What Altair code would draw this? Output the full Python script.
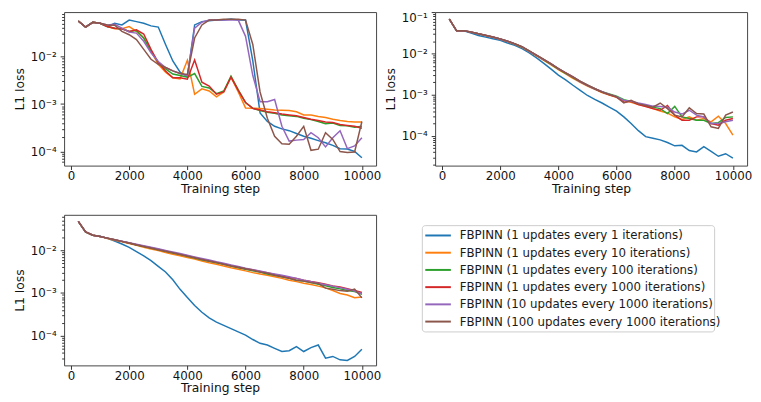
import altair as alt
import pandas as pd

steps = list(range(250, 10001, 250))
series_names = [
    "FBPINN (1 updates every 1 iterations)",
    "FBPINN (1 updates every 10 iterations)",
    "FBPINN (1 updates every 100 iterations)",
    "FBPINN (1 updates every 1000 iterations)",
    "FBPINN (10 updates every 1000 iterations)",
    "FBPINN (100 updates every 1000 iterations)",
]
colors = ["#1f77b4", "#ff7f0e", "#2ca02c", "#d62728", "#9467bd", "#8c564b"]
x_ticks = [0, 2000, 4000, 6000, 8000, 10000]
y_major = [1e-4, 1e-3, 1e-2, 1e-1]

# ---- panel 1 (top left) ----
p1_blue = [0.0565, 0.042, 0.053, 0.0505, 0.043, 0.0505, 0.0467, 0.059, 0.0547, 0.0505, 0.0445, 0.042, 0.018, 0.0081, 0.0047, 0.0038, 0.0467, 0.0547, 0.0574, 0.059, 0.059, 0.062, 0.059, 0.059, 0.0081, 0.00065, 0.00043, 0.00034, 0.0003, 0.000275, 0.00024, 0.00021, 0.00019, 0.00017, 0.000153, 0.000135, 0.000115, 0.000113, 0.0001, 0.000074]
p1_orange = [0.0565, 0.042, 0.053, 0.0505, 0.043, 0.0386, 0.0386, 0.043, 0.034, 0.0247, 0.0131, 0.0069, 0.0047, 0.0036, 0.0034, 0.0084, 0.00161, 0.0021, 0.00189, 0.00142, 0.0018, 0.0037, 0.0018, 0.00083, 0.00082, 0.00081, 0.00078, 0.00075, 0.00074, 0.00073, 0.00069, 0.00059, 0.00059, 0.00055, 0.00052, 0.00048, 0.00045, 0.00043, 0.00042, 0.00042]
p1_green = [0.0565, 0.042, 0.053, 0.0505, 0.043, 0.0398, 0.0386, 0.034, 0.0356, 0.0247, 0.0131, 0.0075, 0.0055, 0.0043, 0.004, 0.0037, 0.0044, 0.00236, 0.00218, 0.00166, 0.00189, 0.0039, 0.002, 0.00108, 0.00081, 0.00073, 0.00067, 0.00064, 0.00059, 0.00057, 0.00055, 0.000505, 0.00047, 0.00043, 0.000385, 0.0004, 0.000355, 0.00035, 0.000325, 0.00034]
p1_red = [0.0565, 0.042, 0.053, 0.0505, 0.043, 0.0398, 0.0386, 0.034, 0.0368, 0.030, 0.0142, 0.0075, 0.005, 0.0036, 0.0036, 0.00334, 0.0085, 0.0029, 0.0024, 0.00161, 0.0018, 0.0037, 0.00195, 0.00108, 0.00081, 0.00075, 0.00069, 0.00066, 0.00062, 0.00059, 0.000565, 0.00052, 0.00048, 0.00045, 0.00042, 0.00041, 0.00037, 0.000355, 0.00034, 0.00031]
p1_purple = [0.0565, 0.042, 0.053, 0.0505, 0.0467, 0.048, 0.0398, 0.0329, 0.0314, 0.0211, 0.0121, 0.0079, 0.0059, 0.005, 0.0044, 0.004, 0.0398, 0.053, 0.059, 0.059, 0.059, 0.059, 0.059, 0.0268, 0.004, 0.00112, 0.00112, 0.00125, 0.00034, 0.000166, 0.000174, 0.00018, 0.00025, 0.000195, 0.000125, 0.000195, 0.000275, 0.000115, 0.000131, 0.000195]
p1_brown = [0.0565, 0.042, 0.053, 0.0505, 0.0467, 0.046, 0.034, 0.029, 0.0229, 0.0142, 0.0088, 0.0069, 0.0059, 0.005, 0.0044, 0.0042, 0.0247, 0.0467, 0.059, 0.059, 0.0612, 0.0612, 0.0612, 0.059, 0.018, 0.0018, 0.000505, 0.00021, 0.000146, 0.000142, 0.00021, 0.00034, 0.000106, 0.000112, 0.00025, 0.00018, 0.0001, 0.000095, 0.000098, 0.00043]

# ---- panel 2 (top right) ----
p2_blue = [0.069, 0.0357, 0.0357, 0.0314, 0.0276, 0.0251, 0.023, 0.021, 0.0181, 0.0159, 0.0132, 0.0104, 0.0079, 0.0058, 0.0042, 0.0030, 0.0023, 0.0017, 0.00128, 0.00096, 0.00077, 0.00063, 0.0005, 0.0004, 0.00029, 0.0002, 0.000134, 0.000096, 0.000088, 0.00008, 0.000069, 0.0000575, 0.000059, 0.000044, 0.000041, 0.000055, 0.000042, 0.000032, 0.000037, 0.000029]
p2_orange = [0.069, 0.0357, 0.0357, 0.0332, 0.0302, 0.0275, 0.025, 0.0224, 0.0197, 0.0169, 0.0143, 0.0112, 0.0088, 0.0068, 0.0053, 0.0041, 0.0032, 0.0025, 0.002, 0.00163, 0.00135, 0.00113, 0.00098, 0.00087, 0.00073, 0.00066, 0.00058, 0.00053, 0.00046, 0.0004, 0.00036, 0.00029, 0.00025, 0.00029, 0.00024, 0.000264, 0.00022, 0.0003, 0.0002, 0.000105]
p2_green = [0.069, 0.0357, 0.0357, 0.0332, 0.0303, 0.0276, 0.0251, 0.0226, 0.0199, 0.0171, 0.0145, 0.0114, 0.009, 0.007, 0.0055, 0.0042, 0.0033, 0.0026, 0.0021, 0.0017, 0.0014, 0.00118, 0.00104, 0.00092, 0.00076, 0.00069, 0.0006, 0.00055, 0.0005, 0.00046, 0.00035, 0.00052, 0.00029, 0.000264, 0.00024, 0.00024, 0.0002, 0.00021, 0.00028, 0.00029]
p2_red = [0.069, 0.0357, 0.0357, 0.0332, 0.0303, 0.0276, 0.0252, 0.0227, 0.02, 0.0172, 0.0146, 0.0115, 0.0091, 0.0071, 0.0056, 0.0043, 0.0034, 0.0027, 0.0021, 0.0017, 0.0014, 0.00117, 0.001, 0.00088, 0.00066, 0.00069, 0.00058, 0.00052, 0.00046, 0.00042, 0.00055, 0.00032, 0.00024, 0.00024, 0.00029, 0.00029, 0.0002, 0.000183, 0.00024, 0.000264]
p2_purple = [0.069, 0.0357, 0.0357, 0.0333, 0.0304, 0.0277, 0.0252, 0.0227, 0.02, 0.0172, 0.0146, 0.0115, 0.0091, 0.0071, 0.0056, 0.0043, 0.0034, 0.0027, 0.0021, 0.0017, 0.0014, 0.00118, 0.00102, 0.0009, 0.00073, 0.0007, 0.00063, 0.00058, 0.00053, 0.00052, 0.0005, 0.00038, 0.00034, 0.00042, 0.00032, 0.00029, 0.0002, 0.0002, 0.00022, 0.00024]
p2_brown = [0.07, 0.0357, 0.0357, 0.0333, 0.0305, 0.0278, 0.0253, 0.0228, 0.0201, 0.0173, 0.0147, 0.0116, 0.0092, 0.0072, 0.0056, 0.0043, 0.0034, 0.0027, 0.0021, 0.0017, 0.0014, 0.00117, 0.00101, 0.00089, 0.00063, 0.00073, 0.0006, 0.00055, 0.0005, 0.00063, 0.00046, 0.00032, 0.00029, 0.00048, 0.00035, 0.00034, 0.000167, 0.000152, 0.00032, 0.00038]

# ---- panel 3 (bottom left) ----
p3_blue = [0.0472, 0.0269, 0.0225, 0.0214, 0.0189, 0.0164, 0.014, 0.0117, 0.0093, 0.0074, 0.0057, 0.0042, 0.0031, 0.00204, 0.00122, 0.00079, 0.00051, 0.000356, 0.000264, 0.00021, 0.000176, 0.000147, 0.000124, 0.000104, 0.000082, 0.000067, 0.000061, 0.000051, 0.000043, 0.000045, 0.000056, 0.000043, 0.000053, 0.000061, 0.00003, 0.000033, 0.0000275, 0.0000266, 0.000033, 0.0000485]
p3_orange = [0.0472, 0.0269, 0.0225, 0.0208, 0.0189, 0.0172, 0.0157, 0.0143, 0.013, 0.0118, 0.0107, 0.0098, 0.0089, 0.0081, 0.0074, 0.0068, 0.0062, 0.0056, 0.0051, 0.0047, 0.0043, 0.0039, 0.0036, 0.0033, 0.003, 0.0028, 0.0026, 0.0024, 0.0022, 0.002, 0.00185, 0.0017, 0.00158, 0.00145, 0.00132, 0.00115, 0.00098, 0.0009, 0.00078, 0.00081]
p3_green = [0.0472, 0.0269, 0.0225, 0.021, 0.0192, 0.0176, 0.0161, 0.0147, 0.0133, 0.0122, 0.0112, 0.0102, 0.0094, 0.0086, 0.0079, 0.0072, 0.0066, 0.006, 0.0055, 0.0051, 0.0047, 0.0043, 0.0039, 0.0036, 0.0033, 0.0031, 0.0028, 0.0026, 0.0024, 0.0022, 0.002, 0.0019, 0.00175, 0.0016, 0.00148, 0.00135, 0.00125, 0.00115, 0.00108, 0.00093]
p3_red = [0.0472, 0.0269, 0.0225, 0.021, 0.0192, 0.0176, 0.0161, 0.0148, 0.0135, 0.0124, 0.0114, 0.0105, 0.0096, 0.0088, 0.0081, 0.0074, 0.0068, 0.0062, 0.0057, 0.0052, 0.0048, 0.0044, 0.004, 0.0037, 0.0035, 0.0032, 0.003, 0.0027, 0.0025, 0.0023, 0.0022, 0.002, 0.00186, 0.00175, 0.0016, 0.00147, 0.00138, 0.00126, 0.00115, 0.00103]
p3_purple = [0.0472, 0.0269, 0.0225, 0.021, 0.0192, 0.0176, 0.0162, 0.0149, 0.0138, 0.0127, 0.0117, 0.0108, 0.0099, 0.0091, 0.0084, 0.0077, 0.007, 0.0064, 0.0059, 0.0054, 0.005, 0.0045, 0.0042, 0.0038, 0.0035, 0.0033, 0.003, 0.0028, 0.0026, 0.0024, 0.0022, 0.002, 0.00185, 0.0017, 0.00157, 0.00145, 0.00134, 0.00123, 0.00112, 0.00096]
p3_brown = [0.0472, 0.0269, 0.0225, 0.021, 0.0192, 0.0176, 0.0161, 0.0148, 0.0134, 0.0123, 0.0113, 0.0103, 0.0095, 0.0087, 0.008, 0.0073, 0.0067, 0.0061, 0.0056, 0.0052, 0.0047, 0.0043, 0.004, 0.0037, 0.0034, 0.0031, 0.0029, 0.0026, 0.0024, 0.0022, 0.002, 0.0019, 0.00175, 0.00168, 0.0013, 0.00122, 0.00114, 0.0011, 0.00124, 0.00077]

FONT = "DejaVu Sans"
LABEL_EXPR = ("datum.value < 0.0005 ? '10⁻⁴' : datum.value < 0.005 ? '10⁻³' : "
              "datum.value < 0.05 ? '10⁻²' : '10⁻¹'")


def frame_of(series_lists):
    rows = []
    for name, vals in zip(series_names, series_lists):
        for s, v in zip(steps, vals):
            rows.append({"series": name, "step": s, "loss": v})
    return pd.DataFrame(rows)


color = alt.Color("series:N", scale=alt.Scale(domain=series_names, range=colors), legend=None)


def panel(series_lists, ydom, height, flush=False):
    df = frame_of(series_lists)
    xenc = alt.X("step:Q",
                 scale=alt.Scale(domain=[-237.5, 10487.5], nice=False, zero=False),
                 axis=alt.Axis(values=x_ticks, format="d", title="Training step",
                               tickSize=4, labelPadding=1, titlePadding=1, labelFlush=False))
    yscale = alt.Scale(type="log", domain=ydom, nice=False)
    major = [v for v in y_major if ydom[0] <= v <= ydom[1]]
    minor = [m * 10.0 ** k for k in range(-5, 0) for m in range(2, 10)]
    minor = [v for v in minor if ydom[0] <= v <= ydom[1]]
    ax_kw = dict(values=major, labelExpr=LABEL_EXPR, title="L1 loss",
                 tickSize=4, labelPadding=4, titlePadding=4, orient="left")
    if flush:
        ax_kw["labelFlush"] = 2
    lines = alt.Chart(df).mark_line(strokeWidth=1.5, clip=True).encode(
        x=xenc,
        y=alt.Y("loss:Q", scale=yscale, axis=alt.Axis(**ax_kw)),
        color=color,
    )
    ticks = alt.Chart(df).mark_line(opacity=0).encode(
        x=xenc,
        y=alt.Y("loss:Q", scale=yscale,
                axis=alt.Axis(values=minor, labels=False, tickSize=2.5, title="",
                              orient="left", domain=False)),
        detail="series:N",
    )
    return alt.layer(lines, ticks).resolve_axis(y="independent").properties(width=317, height=height)


p1 = panel([p1_blue, p1_orange, p1_green, p1_red, p1_purple, p1_brown], [5.05e-5, 0.087], 156)
p2 = panel([p2_blue, p2_orange, p2_green, p2_red, p2_purple, p2_brown], [1.9e-5, 0.102], 156, flush=True)
p3 = panel([p3_blue, p3_orange, p3_green, p3_red, p3_purple, p3_brown], [2.04e-5, 0.0673], 153)

# ---- legend panel (its cell starts 13px right of where the box is drawn) ----
legend_df = pd.DataFrame({"series": series_names})
ypos = alt.Y("series:N", scale=alt.Scale(type="point", domain=series_names, range=[21, 108.5], padding=0),
             axis=None)
box = alt.Chart(alt.Data(values=[{"k": 1}])).mark_rect(
    fill="white", stroke="#cccccc", strokeWidth=1, cornerRadius=3
).encode(x=alt.value(-13), x2=alt.value(284), y=alt.value(11), y2=alt.value(119))
handles = alt.Chart(legend_df).mark_rule(strokeWidth=2).encode(
    x=alt.value(-10), x2=alt.value(16), y=ypos, color=color)
labels = alt.Chart(legend_df).mark_text(
    align="left", baseline="middle", fontSize=12, font=FONT, color="#1a1a1a"
).encode(x=alt.value(25), y=ypos, text="series:N")
legend = alt.layer(box, handles, labels).properties(
    width=300, height=119, view=alt.ViewBackground(stroke="transparent"))


def build(top_pad):
    return alt.concat(p1, p2, p3, legend, columns=2, spacing={"row": 50, "column": 60},
                      bounds="flush").properties(
        padding={"left": 5, "top": top_pad, "right": 0, "bottom": 0}
    ).configure_view(
        stroke="#444444", strokeWidth=1
    ).configure_axis(
        grid=False, domain=False,
        labelFont=FONT, labelFontSize=12, labelColor="#111111",
        titleFont=FONT, titleFontSize=12.5, titleFontWeight="normal", titleColor="#111111",
        tickColor="#333333", tickWidth=1,
    )


chart = build(-1)
try:
    chart.to_dict()
except Exception:
    chart = build(0)

chart.save("out.html", embed_options={"renderer": "svg", "actions": False})
